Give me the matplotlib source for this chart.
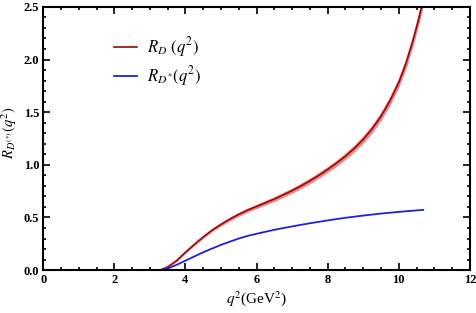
import matplotlib
matplotlib.use("Agg")
import matplotlib.pyplot as plt
from matplotlib.ticker import MultipleLocator, FormatStrFormatter
import numpy as np

# R_D(q^2) central curve and band half-width
q2_D = [3.2, 3.3, 3.5, 3.75, 4.0, 4.25, 4.5, 4.75, 5.0, 5.25, 5.5, 5.75, 6.0, 6.25, 6.5, 6.75,
        7.0, 7.25, 7.5, 7.75, 8.0, 8.25, 8.5, 8.75, 9.0, 9.25, 9.5, 9.75, 10.0, 10.2, 10.4, 10.55, 10.7, 10.8]
R_D = [0.0, 0.003, 0.03, 0.09, 0.17, 0.245, 0.315, 0.38, 0.435, 0.485, 0.53, 0.57, 0.605, 0.64, 0.675, 0.715,
       0.755, 0.80, 0.848, 0.90, 0.956, 1.016, 1.082, 1.156, 1.241, 1.341, 1.461, 1.606, 1.781, 1.96, 2.18, 2.37, 2.58, 2.73]
R_D_err = [0.0, 0.004, 0.008, 0.011, 0.013, 0.014, 0.015, 0.016, 0.017, 0.018, 0.019, 0.02, 0.021, 0.022, 0.023, 0.024,
           0.025, 0.026, 0.027, 0.028, 0.029, 0.03, 0.032, 0.034, 0.036, 0.038, 0.041, 0.044, 0.048, 0.052, 0.056, 0.06, 0.064, 0.066]

# R_D*(q^2)
q2_Ds = [3.3, 3.5, 3.75, 4.0, 4.25, 4.5, 4.75, 5.0, 5.25, 5.5, 5.75, 6.0, 6.5, 7.0, 7.5, 8.0,
         8.5, 9.0, 9.5, 10.0, 10.5, 10.69]
R_Ds = [0.0, 0.015, 0.05, 0.09, 0.13, 0.17, 0.205, 0.24, 0.27, 0.30, 0.325, 0.345, 0.383, 0.415, 0.445, 0.472,
        0.497, 0.518, 0.537, 0.553, 0.567, 0.572]

plt.rcParams['font.family'] = ['Liberation Serif', 'DejaVu Serif']
plt.rcParams['mathtext.fontset'] = 'stix'

fig = plt.figure(figsize=(4.76, 3.13), dpi=100)
ax = fig.add_axes([0.091, 0.137, 0.896, 0.841])

lo = np.array(R_D) - np.array(R_D_err)
hi = np.array(R_D) + np.array(R_D_err)
ax.fill_between(q2_D, lo, hi, color='#f07070', alpha=0.85, lw=0)
ax.plot(q2_D, R_D, color='#8e0c0c', lw=1.2, label=r'$R_D\ (q^2)$')
ax.plot(q2_Ds, R_Ds, color='#2020d8', lw=1.3, label=r'$R_{D^{*}}(q^2)$')

ax.set_xlim(0, 12)
ax.set_ylim(0, 2.5)
ax.xaxis.set_major_locator(MultipleLocator(2))
ax.xaxis.set_minor_locator(MultipleLocator(0.5))
ax.yaxis.set_major_locator(MultipleLocator(0.5))
ax.yaxis.set_minor_locator(MultipleLocator(0.1))
ax.yaxis.set_major_formatter(FormatStrFormatter('%.1f'))
ax.tick_params(which='both', direction='in', top=True, right=True, width=1.2)
ax.tick_params(which='major', length=5, labelsize=9, pad=3)
ax.tick_params(which='minor', length=2.5)
for lab in ax.get_xticklabels() + ax.get_yticklabels():
    lab.set_fontweight('bold')
for s in ax.spines.values():
    s.set_linewidth(1.5)

ax.set_xlabel(r'$q^2$(GeV$^2$)', fontsize=11, labelpad=2)
ax.set_ylabel(r'$R_{D^{(*)}}(q^2)$', fontsize=10.5)
ax.yaxis.set_label_coords(-0.058, 0.52)

ax.legend(loc='upper left', bbox_to_anchor=(0.13, 0.95), frameon=False,
          fontsize=12, handlelength=1.4, labelspacing=0.3, handletextpad=0.6)

plt.savefig('out.png', dpi=100)
